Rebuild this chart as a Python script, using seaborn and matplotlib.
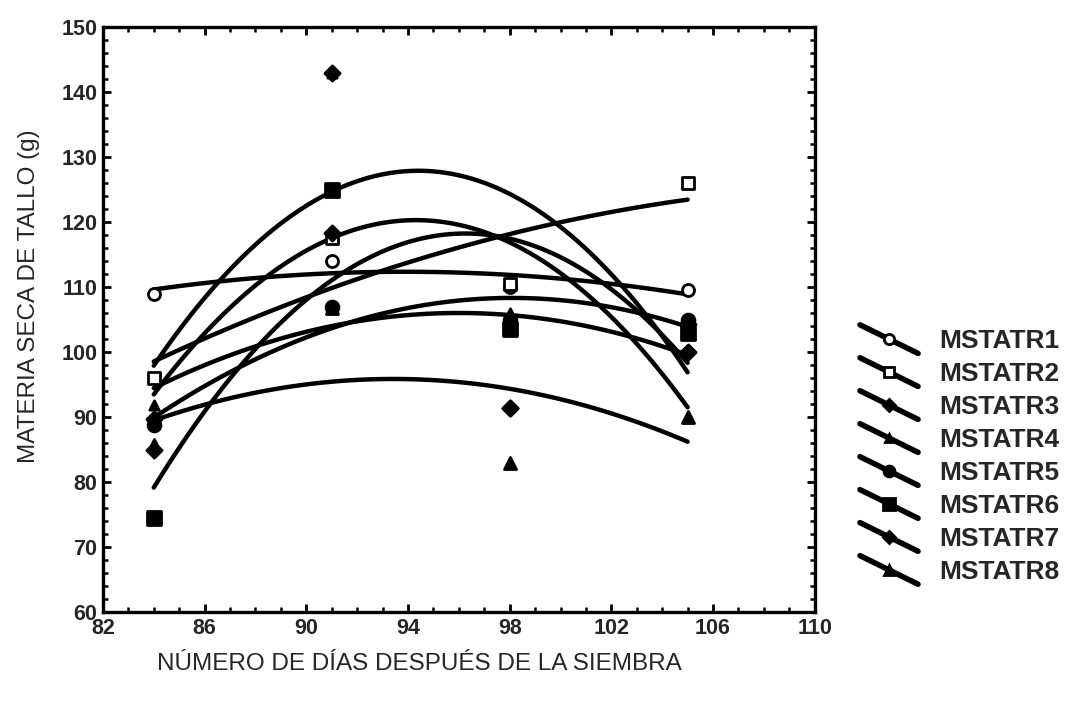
import numpy as np
import pandas as pd
import matplotlib
matplotlib.use("Agg")
import matplotlib.pyplot as plt
import seaborn as sns
from matplotlib.lines import Line2D
from matplotlib.legend_handler import HandlerBase

# === Datos ===
dias = [84, 91, 98, 105]
series = ["MSTATR1", "MSTATR2", "MSTATR3", "MSTATR4",
          "MSTATR5", "MSTATR6", "MSTATR7", "MSTATR8"]
mstatr1 = [109.0, 114.0, 110.0, 109.5]
mstatr2 = [96.0, 117.5, 110.5, 126.0]
mstatr3 = [85.0, 143.0, 91.4, 100.0]
mstatr4 = [91.8, 143.0, 106.0, 103.0]
mstatr5 = [88.8, 107.0, 105.0, 105.0]
mstatr6 = [74.5, 125.0, 103.5, 103.0]
mstatr7 = [89.7, 118.3, 91.4, 104.3]
mstatr8 = [85.7, 106.8, 83.0, 90.0]
valores = [mstatr1, mstatr2, mstatr3, mstatr4,
           mstatr5, mstatr6, mstatr7, mstatr8]

xticks = [82, 86, 90, 94, 98, 102, 106, 110]
yticks = [60, 70, 80, 90, 100, 110, 120, 130, 140, 150]

# estilo de cada serie
marcadores = ["o", "s", "D", "^", "o", "s", "D", "^"]
rellenos = ["white", "white", "black", "black", "black", "black", "black", "black"]
tamanos = [75, 80, 60, 45, 85, 95, 60, 75]

df = pd.DataFrame({
    "dias": dias * len(series),
    "valor": [v for fila in valores for v in fila],
    "serie": [s for s in series for _ in dias],
})

sns.set_style("ticks")
plt.rcParams["font.family"] = ["Liberation Sans", "DejaVu Sans"]

fig = plt.figure(figsize=(10.72, 7.02), dpi=100)
ax = fig.add_axes([0.096, 0.128, 0.664, 0.8335])

for nombre, m, fc, s in zip(series, marcadores, rellenos, tamanos):
    sub = df[df["serie"] == nombre]
    sns.regplot(data=sub, x="dias", y="valor", order=2, ci=None, ax=ax,
                color="black", marker=m,
                scatter_kws=dict(s=s, facecolors=fc, edgecolors="black",
                                 linewidths=2, alpha=1, zorder=3),
                line_kws=dict(lw=3.2, solid_capstyle="round", zorder=2))

ax.set_xlim(82, 110)
ax.set_ylim(60, 150)
ax.set_xticks(xticks)
ax.set_yticks(yticks)
ax.set_xticks(np.arange(82, 111, 1), minor=True)
ax.set_yticks(np.arange(60, 151, 2), minor=True)
ax.tick_params(which="both", direction="in", top=True, right=True,
               color="black")
ax.tick_params(which="major", length=6, width=2, labelsize=15.5, pad=4)
ax.tick_params(which="minor", length=3.5, width=1.8)
for lab in ax.get_xticklabels() + ax.get_yticklabels():
    lab.set_fontweight("bold")
for sp in ax.spines.values():
    sp.set_linewidth(2.4)
    sp.set_color("black")

ax.set_xlabel("NÚMERO DE DÍAS DESPUÉS DE LA SIEMBRA", fontsize=17.5)
ax.set_ylabel("MATERIA SECA DE TALLO (g)", fontsize=17.5)
ax.xaxis.set_label_coords(0.445, -0.07)
ax.yaxis.set_label_coords(-0.088, 0.54)


# Leyenda con la linea inclinada (como en el original)
class ManejadorInclinado(HandlerBase):
    def create_artists(self, legend, orig_handle, xdescent, ydescent,
                       width, height, fontsize, trans):
        x0, x1 = -xdescent, -xdescent + width
        y0, y1 = -ydescent + height * 1.25, -ydescent - height * 0.3
        linea = Line2D([x0, x1], [y0, y1], color="black", lw=4,
                       solid_capstyle="round")
        punto = Line2D([(x0 + x1) / 2], [(y0 + y1) / 2],
                       marker=orig_handle.get_marker(),
                       markersize=orig_handle.get_markersize(),
                       markerfacecolor=orig_handle.get_markerfacecolor(),
                       markeredgecolor="black", markeredgewidth=2,
                       linestyle="none")
        linea.set_transform(trans)
        punto.set_transform(trans)
        return [linea, punto]


manejadores = [Line2D([], [], marker=m, markersize=np.sqrt(s) * 0.85,
                      markerfacecolor=fc, color="black")
               for m, fc, s in zip(marcadores, rellenos, tamanos)]
leg = fig.legend(manejadores, series, loc="center left",
                 bbox_to_anchor=(0.785, 0.35), frameon=False,
                 handler_map={Line2D: ManejadorInclinado()},
                 prop=dict(size=19, weight="bold"),
                 handlelength=2.2, handletextpad=0.8, labelspacing=0.34,
                 borderpad=0.2)

fig.savefig("out.png", dpi=100)
